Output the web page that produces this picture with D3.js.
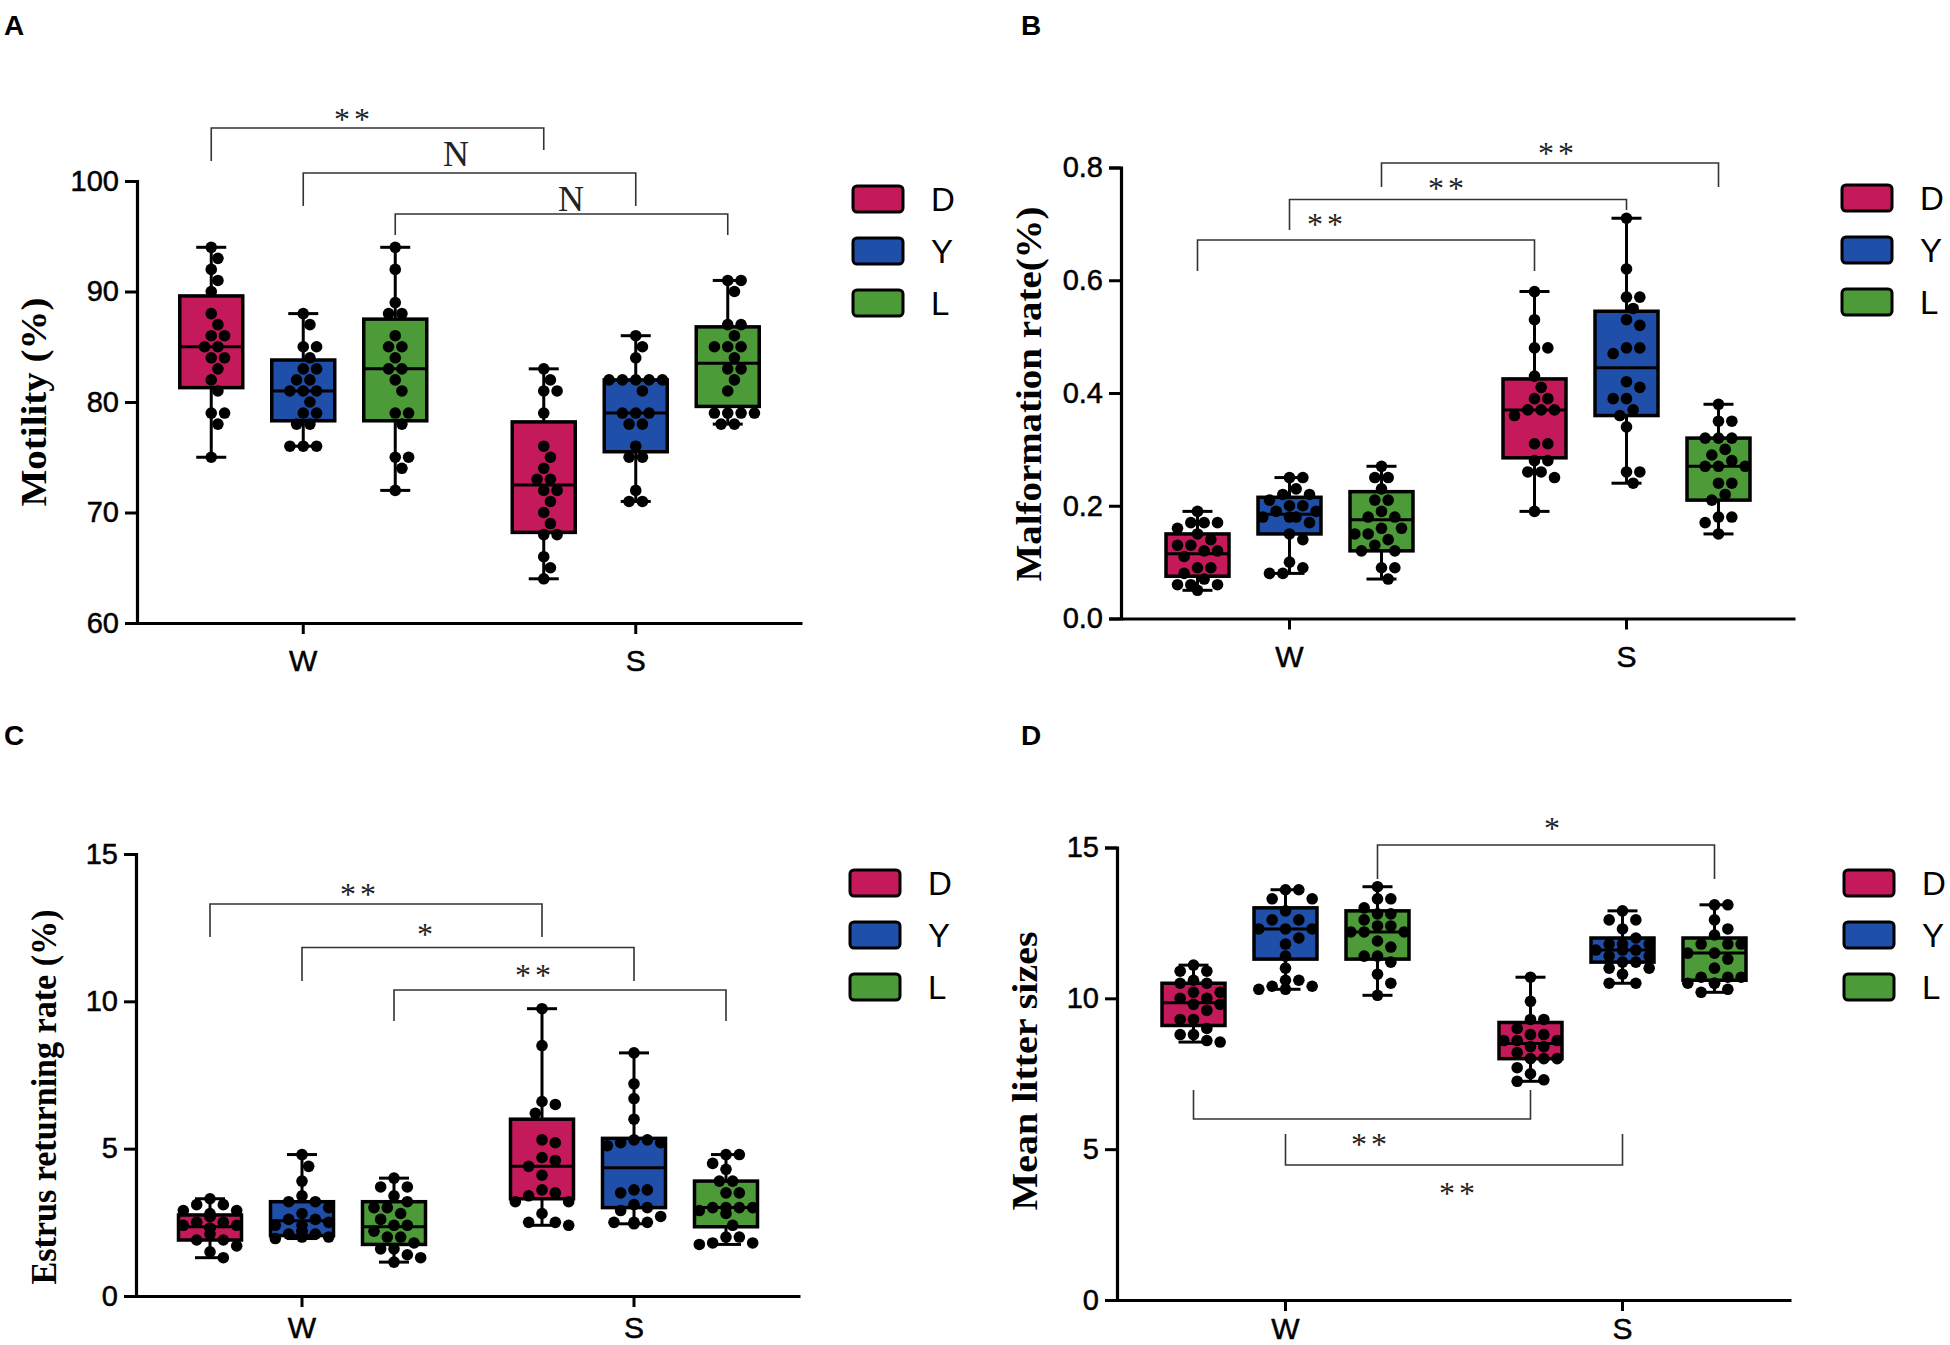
<!DOCTYPE html>
<html lang="en">
<head>
<meta charset="UTF-8" />
<title>Semen and reproduction boxplots</title>
<script src="https://d3js.org/d3.v7.min.js"></script>
<style>
  body { margin: 0; background: #fff; }
  svg { display: block; }
</style>
</head>
<body>
<svg id="chart" width="1950" height="1345"></svg>
<script>
// ----- Data -----
const seasons = ["W", "S"];
const breeds = ["D", "Y", "L"];
const breedColors = ["#c41a5c", "#1f4fa9", "#4c9a38"];

// box stats [min, q1, median, q3, max], order: W-D, W-Y, W-L, S-D, S-Y, S-L
const motilityBoxes = [
  [75, 81.3, 85, 89.6, 94], [76, 78.3, 81, 83.8, 88], [72, 78.3, 83, 87.5, 94],
  [64, 68.2, 72.5, 78.2, 83], [71, 75.5, 79, 82, 86], [78, 79.6, 83.5, 86.8, 91]
];
const motilityPoints = [
  [94, 93, 92, 91, 90, 88, 87, 86, 86, 85, 85, 84, 84, 83, 82, 81, 79, 79, 78, 75],
  [88, 87, 85, 85, 84, 83, 83, 82, 82, 81, 81, 81, 80, 79, 79, 78, 78, 76, 76, 76],
  [94, 92, 89, 88, 88, 86, 85, 85, 84, 83, 83, 82, 81, 79, 79, 78, 75, 75, 74, 72],
  [83, 82, 81, 81, 79, 76, 75, 74, 73, 73, 72, 72, 71, 70, 69, 68, 68, 66, 65, 64],
  [86, 85, 84, 82, 82, 82, 82, 82, 81, 79, 79, 79, 78, 78, 76, 75, 75, 72, 71, 71],
  [91, 91, 90, 87, 87, 86, 85, 85, 85, 84, 83, 83, 82, 81, 79, 79, 79, 79, 78, 78]
];
const motilityTicks = [60, 70, 80, 90, 100];
const motilitySig = [["D", "**"], ["Y", "N"], ["L", "N"]];

const malformBoxes = [
  [0.05, 0.075, 0.115, 0.15, 0.19], [0.08, 0.15, 0.185, 0.215, 0.25], [0.07, 0.12, 0.175, 0.225, 0.27],
  [0.19, 0.285, 0.37, 0.425, 0.58], [0.24, 0.36, 0.445, 0.545, 0.71], [0.15, 0.21, 0.27, 0.32, 0.38]
];
const malformPoints = [
  [0.19, 0.17, 0.17, 0.17, 0.16, 0.15, 0.14, 0.13, 0.13, 0.12, 0.12, 0.11, 0.09, 0.09, 0.08, 0.07, 0.06, 0.06, 0.06, 0.05],
  [0.25, 0.25, 0.23, 0.22, 0.22, 0.21, 0.20, 0.20, 0.19, 0.19, 0.18, 0.18, 0.18, 0.17, 0.15, 0.14, 0.10, 0.09, 0.08, 0.08],
  [0.27, 0.25, 0.25, 0.23, 0.21, 0.21, 0.19, 0.18, 0.18, 0.16, 0.16, 0.15, 0.15, 0.14, 0.13, 0.12, 0.12, 0.09, 0.09, 0.07],
  [0.58, 0.53, 0.48, 0.48, 0.43, 0.41, 0.39, 0.39, 0.37, 0.37, 0.37, 0.36, 0.31, 0.31, 0.28, 0.28, 0.26, 0.26, 0.25, 0.19],
  [0.71, 0.62, 0.57, 0.57, 0.55, 0.53, 0.52, 0.48, 0.48, 0.47, 0.42, 0.41, 0.39, 0.39, 0.37, 0.36, 0.34, 0.26, 0.26, 0.24],
  [0.38, 0.35, 0.35, 0.32, 0.32, 0.32, 0.30, 0.29, 0.28, 0.27, 0.27, 0.27, 0.24, 0.24, 0.22, 0.21, 0.18, 0.18, 0.17, 0.15]
];
const malformTicks = [0, 0.2, 0.4, 0.6, 0.8];
const malformSig = [["D", "**"], ["Y", "**"], ["L", "**"]];

const estrusBoxes = [
  [1.3, 1.9, 2.35, 2.75, 3.3], [1.95, 2.05, 2.55, 3.2, 4.8], [1.15, 1.75, 2.35, 3.2, 4.0],
  [2.4, 3.3, 4.4, 6.0, 9.75], [2.45, 3.0, 4.35, 5.35, 8.25], [1.75, 2.35, 3.0, 3.9, 4.8]
];
const estrusPoints = [
  [3.3, 3.1, 3.1, 2.9, 2.9, 2.8, 2.7, 2.7, 2.5, 2.5, 2.4, 2.4, 2.3, 2.3, 2.1, 1.9, 1.9, 1.7, 1.5, 1.3],
  [4.8, 4.4, 3.9, 3.4, 3.2, 3.2, 3.0, 2.8, 2.6, 2.6, 2.5, 2.4, 2.4, 2.2, 2.2, 2.1, 2.1, 2.0, 2.0, 1.95],
  [4.0, 3.7, 3.7, 3.4, 3.2, 3.0, 3.0, 2.8, 2.6, 2.4, 2.4, 2.2, 2.0, 2.0, 1.8, 1.6, 1.6, 1.4, 1.3, 1.15],
  [9.75, 8.5, 6.6, 6.5, 6.2, 5.3, 5.2, 4.7, 4.6, 4.4, 4.1, 3.6, 3.5, 3.4, 3.2, 3.2, 2.8, 2.5, 2.5, 2.4],
  [8.25, 7.2, 6.7, 6.0, 5.3, 5.3, 5.2, 5.2, 5.1, 3.6, 3.6, 3.5, 3.1, 3.0, 2.9, 2.7, 2.5, 2.5, 2.5, 2.45],
  [4.8, 4.8, 4.5, 4.3, 3.9, 3.9, 3.5, 3.5, 3.0, 3.0, 3.0, 3.0, 2.9, 2.8, 2.4, 2.0, 2.0, 1.8, 1.8, 1.75]
];
const estrusTicks = [0, 5, 10, 15];
const estrusSig = [["D", "**"], ["Y", "*"], ["L", "**"]];

const litterBoxes = [
  [8.55, 9.1, 9.85, 10.5, 11.1], [10.3, 11.3, 12.3, 13.0, 13.6], [10.1, 11.3, 12.2, 12.9, 13.7],
  [7.25, 8.0, 8.5, 9.2, 10.7], [10.5, 11.2, 11.6, 12.0, 12.9], [10.2, 10.6, 11.5, 12.0, 13.1]
];
const litterPoints = [
  [11.1, 10.9, 10.9, 10.6, 10.5, 10.5, 10.2, 10.2, 10.0, 10.0, 9.8, 9.8, 9.6, 9.3, 9.3, 9.0, 8.8, 8.8, 8.6, 8.55],
  [13.6, 13.6, 13.3, 13.3, 12.9, 12.6, 12.6, 12.3, 12.3, 12.3, 12.0, 11.8, 11.4, 11.0, 10.6, 10.6, 10.4, 10.4, 10.3, 10.3],
  [13.7, 13.3, 13.3, 13.0, 12.8, 12.8, 12.6, 12.4, 12.4, 12.2, 12.2, 12.2, 11.9, 11.7, 11.4, 11.4, 11.2, 10.8, 10.5, 10.1],
  [10.7, 9.9, 9.3, 9.3, 9.0, 8.8, 8.8, 8.6, 8.6, 8.6, 8.4, 8.4, 8.2, 8.0, 8.0, 8.0, 7.7, 7.5, 7.3, 7.25],
  [12.9, 12.6, 12.6, 12.3, 12.0, 11.8, 11.8, 11.8, 11.6, 11.6, 11.6, 11.4, 11.4, 11.2, 11.2, 11.0, 11.0, 10.8, 10.5, 10.5],
  [13.1, 13.1, 12.6, 12.3, 12.1, 11.8, 11.8, 11.8, 11.5, 11.5, 11.3, 11.0, 10.7, 10.7, 10.7, 10.5, 10.5, 10.5, 10.3, 10.2]
];
const litterTicks = [0, 5, 10, 15];
const litterSig = [["L", "*"], ["D", "**"], ["Y", "**"]];

// ----- Layout (pixels) -----
const panels = [
  { letter: "A", title: "Motility (%)", boxes: motilityBoxes, points: motilityPoints,
    ticks: motilityTicks, fmt: d3.format("d"), sig: motilitySig,
    x0: 137, x1: 802, yTop: 181, yBot: 623, xLabelY: 671, titleX: 46, titleY: 402, titleLen: 209,
    legendX: 853, legendY: 199, letterX: 4, letterY: 35,
    brackets: [
      { bar: 128, legL: 161, legR: 150, tx: 354, ty: 130 },
      { bar: 173, legL: 206, legR: 206, tx: 456, ty: 166 },
      { bar: 214, legL: 235, legR: 235, tx: 571, ty: 211 }
    ] },
  { letter: "B", title: "Malformation rate(%)", boxes: malformBoxes, points: malformPoints,
    ticks: malformTicks, fmt: d3.format(".1f"), sig: malformSig,
    x0: 1121, x1: 1795, yTop: 167.5, yBot: 618.5, xLabelY: 667, titleX: 1041, titleY: 394, titleLen: 375,
    legendX: 1842, legendY: 198, letterX: 1021, letterY: 35,
    brackets: [
      { bar: 240, legL: 271, legR: 271, tx: 1327, ty: 235 },
      { bar: 199.5, legL: 230, legR: 210, tx: 1448, ty: 199 },
      { bar: 163, legL: 187, legR: 187, tx: 1558, ty: 164 }
    ] },
  { letter: "C", title: "Estrus returning rate (%)", boxes: estrusBoxes, points: estrusPoints,
    ticks: estrusTicks, fmt: d3.format("d"), sig: estrusSig,
    x0: 136, x1: 800, yTop: 854, yBot: 1296, xLabelY: 1338, titleX: 56, titleY: 1097, titleLen: 375,
    legendX: 850, legendY: 883, letterX: 4, letterY: 745,
    brackets: [
      { bar: 904, legL: 937, legR: 937, tx: 360, ty: 905 },
      { bar: 947.5, legL: 981, legR: 981, tx: 427, ty: 945 },
      { bar: 990, legL: 1021, legR: 1021, tx: 535, ty: 986 }
    ] },
  { letter: "D", title: "Mean litter sizes", boxes: litterBoxes, points: litterPoints,
    ticks: litterTicks, fmt: d3.format("d"), sig: litterSig,
    x0: 1117, x1: 1791, yTop: 847.5, yBot: 1300, xLabelY: 1339, titleX: 1037, titleY: 1071, titleLen: 279,
    legendX: 1844, legendY: 883, letterX: 1021, letterY: 745,
    brackets: [
      { bar: 845, legL: 879, legR: 879, tx: 1554, ty: 839 },
      { bar: 1119, legL: 1090, legR: 1090, tx: 1371, ty: 1155 },
      { bar: 1165, legL: 1134, legR: 1134, tx: 1459, ty: 1204 }
    ] }
];

const boxW = 63, capW = 30, dotR = 5.8, innerOff = 92;
const sansFont = '"Liberation Sans", Arial, sans-serif';
const serifFont = '"Liberation Serif", "Times New Roman", serif';

const svg = d3.select("#chart");

// simple beeswarm so equal values spread sideways
function swarm(vals, y) {
  const placed = [];
  return vals.map(v => {
    const cy = y(v);
    let dx = 0;
    for (let k = 0; k < 12; k++) {
      const off = k === 0 ? 0 : (k % 2 ? 1 : -1) * Math.ceil(k / 2) * dotR * 1.15;
      if (Math.abs(off) > boxW / 2 - 2) continue;
      if (placed.every(p => Math.hypot(p.dx - off, p.cy - cy) >= dotR * 2.05)) { dx = off; break; }
    }
    placed.push({ dx, cy });
    return { dx, cy };
  });
}

panels.forEach(p => {
  const g = svg.append("g");

  const x = d3.scaleBand().domain(seasons).range([p.x0, p.x1]);
  const inner = d3.scalePoint().domain(breeds).range([-innerOff, innerOff]);
  const y = d3.scaleLinear()
    .domain(d3.extent(p.ticks))
    .range([p.yBot, p.yTop]);
  const cx = (s, b) => x(s) + x.bandwidth() / 2 + inner(b);

  // axes
  const yAxis = g.append("g")
    .attr("transform", `translate(${p.x0},0)`)
    .call(d3.axisLeft(y).tickValues(p.ticks).tickFormat(p.fmt).tickSize(12).tickPadding(6));
  const xAxis = g.append("g")
    .attr("transform", `translate(0,${p.yBot})`)
    .call(d3.axisBottom(x).tickSize(11).tickSizeOuter(0));
  [yAxis, xAxis].forEach(a => {
    a.select(".domain").attr("stroke", "#000").attr("stroke-width", 3.2);
    a.selectAll(".tick line").attr("stroke", "#000").attr("stroke-width", 3);
  });
  yAxis.selectAll(".tick text")
    .attr("font-family", sansFont).attr("font-size", 29).attr("fill", "#000")
    .attr("stroke", "#000").attr("stroke-width", 0.5);
  xAxis.selectAll(".tick text")
    .attr("font-family", sansFont).attr("font-size", 30).attr("fill", "#000")
    .attr("stroke", "#000").attr("stroke-width", 0.5)
    .attr("dy", null).attr("y", p.xLabelY - p.yBot);

  // axis title
  g.append("text")
    .attr("transform", `translate(${p.titleX},${p.titleY}) rotate(-90)`)
    .attr("text-anchor", "middle")
    .attr("font-family", serifFont).attr("font-weight", "bold").attr("font-size", 35)
    .attr("textLength", p.titleLen).attr("lengthAdjust", "spacingAndGlyphs")
    .text(p.title);

  // panel letter
  g.append("text")
    .attr("x", p.letterX).attr("y", p.letterY)
    .attr("font-family", sansFont).attr("font-weight", "bold").attr("font-size", 28)
    .text(p.letter);

  // boxes
  p.boxes.forEach((b, i) => {
    const s = seasons[Math.floor(i / 3)];
    const bi = i % 3;
    const c = cx(s, breeds[bi]);
    const [mn, q1, md, q3, mx] = b;
    const bg = g.append("g");
    bg.append("line").attr("x1", c).attr("x2", c).attr("y1", y(mx)).attr("y2", y(mn))
      .attr("stroke", "#000").attr("stroke-width", 3);
    [mn, mx].forEach(v => bg.append("line")
      .attr("x1", c - capW / 2).attr("x2", c + capW / 2).attr("y1", y(v)).attr("y2", y(v))
      .attr("stroke", "#000").attr("stroke-width", 3));
    bg.append("rect")
      .attr("x", c - boxW / 2).attr("width", boxW)
      .attr("y", y(q3)).attr("height", y(q1) - y(q3))
      .attr("fill", breedColors[bi]).attr("stroke", "#000").attr("stroke-width", 3.5);
    bg.append("line").attr("x1", c - boxW / 2).attr("x2", c + boxW / 2)
      .attr("y1", y(md)).attr("y2", y(md)).attr("stroke", "#000").attr("stroke-width", 3);

    bg.selectAll("circle")
      .data(swarm(p.points[i], y))
      .join("circle")
      .attr("cx", d => c + d.dx).attr("cy", d => d.cy).attr("r", dotR)
      .attr("fill", "#000");
  });

  // significance brackets
  p.sig.forEach(([b, label], k) => {
    const L = p.brackets[k];
    const xl = cx("W", b), xr = cx("S", b);
    g.append("path")
      .attr("d", `M${xl},${L.legL}V${L.bar}H${xr}V${L.legR}`)
      .attr("fill", "none").attr("stroke", "#333").attr("stroke-width", 1.6);
    g.append("text")
      .attr("x", L.tx).attr("y", L.ty)
      .attr("text-anchor", "middle")
      .attr("font-family", serifFont).attr("font-size", label === "N" ? 36 : 32)
      .attr("letter-spacing", label === "N" ? 0 : 4)
      .attr("fill", "#222")
      .text(label);
  });

  // legend
  breeds.forEach((b, i) => {
    const cy = p.legendY + i * 52;
    g.append("rect")
      .attr("x", p.legendX).attr("y", cy - 13).attr("width", 50).attr("height", 26)
      .attr("rx", 4).attr("fill", breedColors[i]).attr("stroke", "#000").attr("stroke-width", 3);
    g.append("text")
      .attr("x", p.legendX + 78).attr("y", cy + 12)
      .attr("font-family", sansFont).attr("font-size", 33)
      .text(b);
  });
});
</script>
</body>
</html>
